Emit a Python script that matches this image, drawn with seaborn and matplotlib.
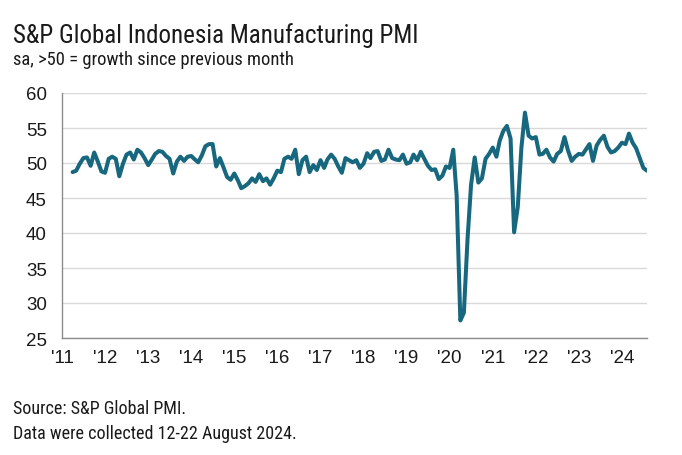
import matplotlib
matplotlib.use("Agg")
import matplotlib.pyplot as plt
from matplotlib import font_manager
import seaborn as sns
import pandas as pd

# ---- data (monthly, Apr 2011 - Aug 2024) ----
start_month = "2011-04-01"
pmi_2011 = [48.7, 48.9, 49.9, 50.7, 50.8, 49.6, 51.5, 50.2, 48.8]
pmi_2012 = [48.6, 50.6, 50.9, 50.6, 48.1, 49.9, 51.2, 51.5, 50.5, 51.9, 51.5, 50.7]
pmi_2013 = [49.7, 50.5, 51.3, 51.7, 51.6, 51.0, 50.6, 48.5, 50.2, 50.9, 50.3, 50.9]
pmi_2014 = [51.0, 50.5, 50.1, 51.1, 52.4, 52.7, 52.7, 49.5, 50.7, 49.4, 48.0, 47.6]
pmi_2015 = [48.5, 47.5, 46.4, 46.7, 47.1, 47.8, 47.3, 48.4, 47.4, 47.8, 46.9, 47.8]
pmi_2016 = [48.9, 48.7, 50.6, 50.9, 50.6, 51.9, 48.4, 50.4, 50.9, 48.7, 49.7, 49.0]
pmi_2017 = [50.4, 49.3, 50.5, 51.2, 50.6, 49.5, 48.6, 50.7, 50.4, 50.1, 50.4, 49.3]
pmi_2018 = [49.9, 51.4, 50.7, 51.6, 51.7, 50.3, 50.5, 51.9, 50.7, 50.5, 50.4, 51.2]
pmi_2019 = [49.9, 50.1, 51.2, 50.4, 51.6, 50.6, 49.6, 49.0, 49.1, 47.7, 48.2, 49.5]
pmi_2020 = [49.3, 51.9, 45.3, 27.5, 28.6, 39.1, 46.9, 50.8, 47.2, 47.8, 50.6, 51.3]
pmi_2021 = [52.2, 50.9, 53.2, 54.6, 55.3, 53.5, 40.1, 43.7, 52.2, 57.2, 53.9, 53.5]
pmi_2022 = [53.7, 51.2, 51.3, 51.9, 50.8, 50.2, 51.3, 51.7, 53.7, 51.8, 50.3, 50.9]
pmi_2023 = [51.3, 51.2, 51.9, 52.7, 50.3, 52.5, 53.3, 53.9, 52.3, 51.5, 51.7, 52.2]
pmi_2024 = [52.9, 52.7, 54.2, 52.9, 52.1, 50.7, 49.3, 48.9]

tick_years = list(range(2011, 2025))
tick_labels = ["'" + str(y)[2:] for y in tick_years]
y_ticks = [25, 30, 35, 40, 45, 50, 55, 60]

values = (pmi_2011 + pmi_2012 + pmi_2013 + pmi_2014 + pmi_2015 + pmi_2016 +
          pmi_2017 + pmi_2018 + pmi_2019 + pmi_2020 + pmi_2021 + pmi_2022 +
          pmi_2023 + pmi_2024)
dates = pd.date_range(start_month, periods=len(values), freq="MS")
df = pd.DataFrame({"date": dates, "pmi": values})

# ---- fonts ----
avail = {f.name for f in font_manager.fontManager.ttflist}
def pick(*names):
    for n in names:
        if n in avail:
            return n
    return "DejaVu Sans"
narrow = pick("Liberation Sans Narrow", "Roboto Condensed", "Roboto", "Liberation Sans")
arial = pick("Liberation Sans", "Arial", "DejaVu Sans")

sns.set_theme(style="white")
plt.rcParams["font.family"] = [arial, "DejaVu Sans"]

W, H = 682, 456
fig = plt.figure(figsize=(W / 100, H / 100), dpi=100)
ax = fig.add_axes([62 / W, 1 - 339 / H, (647 - 62) / W, (339 - 94) / H])

line_color = "#17687f"
sns.lineplot(data=df, x="date", y="pmi", ax=ax, color=line_color, linewidth=2.9)

ax.set_ylim(25, 60)
ax.set_yticks(y_ticks)
ax.set_xlim(pd.Timestamp("2011-01-01"), pd.Timestamp("2024-08-01"))
ax.set_xticks([pd.Timestamp(f"{y}-01-01") for y in tick_years])
ax.set_xticklabels(tick_labels)
ax.set_xlabel("")
ax.set_ylabel("")

ax.grid(axis="y", color="#d9d9d9", linewidth=1.0)
ax.grid(axis="x", visible=False)
ax.set_axisbelow(True)
for s in ["top", "right"]:
    ax.spines[s].set_visible(False)
for s in ["left", "bottom"]:
    ax.spines[s].set_color("#8c8c8c")
    ax.spines[s].set_linewidth(1.0)
ax.tick_params(axis="both", which="both", direction="out", length=4, width=1,
               color="#8c8c8c", labelsize=13.5, labelcolor="#1a1a1a")
ax.tick_params(axis="y", pad=7)
ax.tick_params(axis="x", pad=4)
for lab in ax.get_xticklabels() + ax.get_yticklabels():
    lab.set_fontfamily([arial, "DejaVu Sans"])

def ftext(x, y, s, **kw):
    fig.text(x / W, 1 - y / H, s, transform=fig.transFigure, **kw)

ftext(13, 36, "S&P Global Indonesia Manufacturing PMI", fontsize=18,
      family=[narrow, "DejaVu Sans"], color="#1a1a1a", va="center", ha="left")
ftext(13, 60, "sa, >50 = growth since previous month", fontsize=13.3,
      family=[narrow, "DejaVu Sans"], color="#1a1a1a", va="center", ha="left")
ftext(13, 409, "Source: S&P Global PMI.", fontsize=13,
      family=[narrow, "DejaVu Sans"], color="#1a1a1a", va="center", ha="left")
ftext(13, 434, "Data were collected 12-22 August 2024.", fontsize=13,
      family=[narrow, "DejaVu Sans"], color="#1a1a1a", va="center", ha="left")

fig.savefig("out.png", dpi=100, facecolor="white")
